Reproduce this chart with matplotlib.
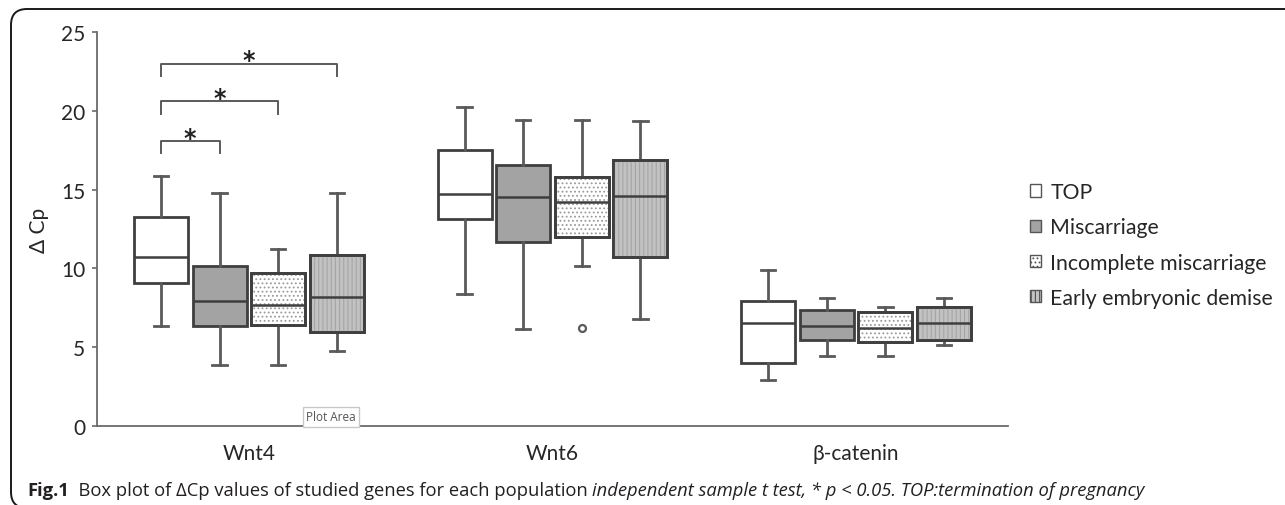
import numpy as np
import matplotlib
matplotlib.use("Agg")
import matplotlib.pyplot as plt
from matplotlib.patches import Patch, PathPatch, FancyBboxPatch
from matplotlib.transforms import IdentityTransform

# data (delta Cp)
genes = ["Wnt4", "Wnt6", "β-catenin"]
groups = ["TOP", "Miscarriage", "Incomplete miscarriage", "Early embryonic demise"]
whisker_low = [[6.35, 3.87, 3.87, 4.76], [8.38, 6.15, 10.15, 6.79], [2.92, 4.44, 4.44, 5.14]]
q1 = [[9.07, 6.35, 6.41, 5.96], [13.13, 11.68, 12.0, 10.72], [4.0, 5.46, 5.33, 5.46]]
median = [[10.72, 7.93, 7.68, 8.19], [14.72, 14.53, 14.2, 14.6], [6.54, 6.35, 6.22, 6.54]]
q3 = [[13.26, 10.15, 9.71, 10.85], [17.51, 16.56, 15.8, 16.88], [7.93, 7.36, 7.23, 7.55]]
whisker_high = [[15.86, 14.78, 11.23, 14.78], [20.24, 19.42, 19.42, 19.35], [9.9, 8.12, 7.55, 8.12]]
outliers = {(1, 2): [6.2]}

# significance brackets on Wnt4: (group a, group b, height)
brackets = [(0, 1, 18.1), (0, 2, 20.6), (0, 3, 23.0)]

fills = ["white", "#a3a3a3", "white", "#c2c2c2"]
hatches = [None, None, "....", "||||"]
hatch_cols = [None, None, "#9a9a9a", "#a5a5a5"]
edge = "#3f3f3f"
wcol = "#5a5a5a"
font = ["Lato", "DejaVu Sans"]

plt.rcParams["font.family"] = font
plt.rcParams["hatch.linewidth"] = 0.8

W, H = 1285, 506
fig = plt.figure(figsize=(W / 100, H / 100), dpi=100)
ax = fig.add_axes([97 / W, 79 / H, (1008 - 97) / W, (473 - 79) / H])

step = 0.193
width = 0.178
offsets = (np.arange(4) - 1.5) * step

for g in range(len(genes)):
    for k in range(len(groups)):
        st = dict(med=median[g][k], q1=q1[g][k], q3=q3[g][k],
                  whislo=whisker_low[g][k], whishi=whisker_high[g][k],
                  fliers=outliers.get((g, k), []))
        pos = g + offsets[k]
        res = ax.bxp([st], positions=[pos], widths=width, capwidths=0.047,
                     patch_artist=True, manage_ticks=False,
                     boxprops=dict(facecolor=fills[k], edgecolor=edge, linewidth=2),
                     medianprops=dict(color=edge, linewidth=1.8),
                     whiskerprops=dict(color=wcol, linewidth=2),
                     capprops=dict(color=wcol, linewidth=2),
                     flierprops=dict(marker="o", markersize=5, markerfacecolor="white",
                                     markeredgecolor=wcol, markeredgewidth=1.6))
        if hatches[k]:
            box = res["boxes"][0]
            hp = PathPatch(box.get_path(), transform=box.get_transform(),
                           facecolor="none", edgecolor=hatch_cols[k], linewidth=0,
                           hatch=hatches[k], zorder=box.get_zorder() + 0.1)
            ax.add_patch(hp)
            op = PathPatch(box.get_path(), transform=box.get_transform(),
                           facecolor="none", edgecolor=edge, linewidth=2,
                           zorder=box.get_zorder() + 0.2)
            ax.add_patch(op)
            res["medians"][0].set_zorder(box.get_zorder() + 0.3)

for a, b, h in brackets:
    xa, xb = offsets[a], offsets[b]
    ax.plot([xa, xa, xb, xb], [h - 0.8, h, h, h - 0.8], color=wcol, lw=1.4,
            clip_on=False)
    ax.text((xa + xb) / 2, h + 0.2, "*", ha="center", va="center",
            fontsize=17, weight="bold", color="#222222", family=["DejaVu Sans"])

ax.set_xlim(-0.5, 2.5)
ax.set_ylim(0, 25)
ax.set_yticks(range(0, 26, 5))
ax.set_xticks(range(len(genes)))
ax.set_xticklabels(genes)
ax.tick_params(axis="x", length=0, pad=12, labelsize=15, labelcolor="#262626")
ax.tick_params(axis="y", length=3.5, width=1.2, color="#6a6a6a", pad=5,
               labelsize=15, labelcolor="#262626")
for s in ["top", "right"]:
    ax.spines[s].set_visible(False)
for s in ["left", "bottom"]:
    ax.spines[s].set_color("#6a6a6a")
    ax.spines[s].set_linewidth(1.3)
ax.set_ylabel("Δ Cp", fontsize=15, color="#262626")
ax.yaxis.set_label_coords(-0.053, 0.5)

handles = [Patch(facecolor=fills[k], edgecolor="#555555", hatch=hatches[k], linewidth=1)
           for k in range(len(groups))]
fig.legend(handles, groups, loc="upper left", bbox_to_anchor=(1030 / W, (H - 183) / H),
           frameon=False, fontsize=15.3, handlelength=0.5, handleheight=0.5,
           handletextpad=0.45, labelspacing=0.72, borderpad=0, borderaxespad=0,
           labelcolor="#262626")

# "Plot Area" tooltip captured in the screenshot
fig.text(331 / W, (H - 418) / H, "Plot Area", ha="center", va="center", fontsize=8.5,
         color="#555555", family=["Open Sans", "DejaVu Sans"],
         bbox=dict(boxstyle="square,pad=0.3", facecolor="white", edgecolor="#c8c8c8",
                   linewidth=1))

# caption frame
frame = FancyBboxPatch((11, -3), 1400, H - 10 + 3, boxstyle="round,pad=0,rounding_size=16",
                       facecolor="none", edgecolor="#1a1a1a", linewidth=1.4,
                       transform=IdentityTransform(), clip_on=False)
fig.add_artist(frame)

# caption pieces
cap_font = ["Open Sans", "DejaVu Sans"]
parts = [("Fig.1", "bold", "normal"),
         ("  Box plot of ΔCp values of studied genes for each population ", "normal", "normal"),
         ("independent sample t test, * p < 0.05. TOP:termination of pregnancy", "normal", "italic")]
fig.canvas.draw()
r = fig.canvas.get_renderer()
x = 27
for txt, wt, sty in parts:
    t = fig.text(x / W, 10 / H, txt, ha="left", va="baseline", fontsize=13.2,
                 weight=wt, style=sty, family=cap_font, color="#231f20")
    x = t.get_window_extent(r).x1

fig.savefig("out.png", dpi=100)
